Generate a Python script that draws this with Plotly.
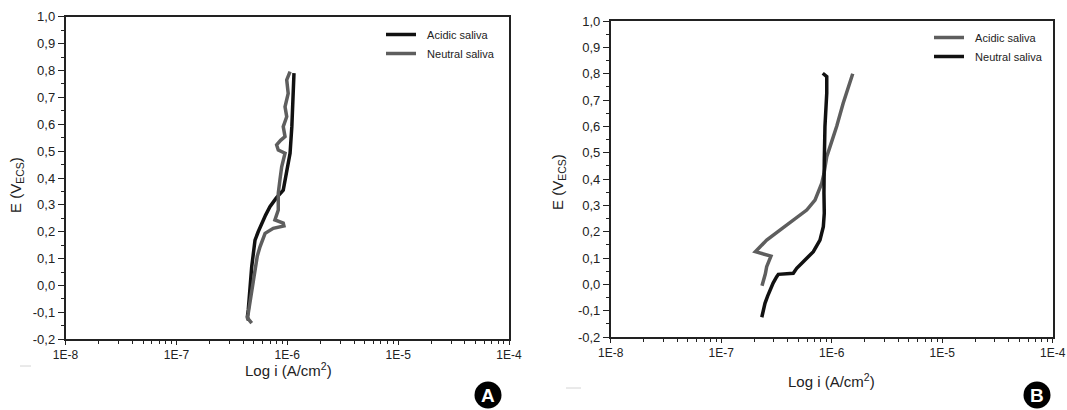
import plotly.graph_objects as go

# ---------------- Data ----------------
# Panel A
a_acidic_E = [-0.13, -0.116, -0.091, -0.05, -0.017, 0.03, 0.07, 0.12, 0.169, 0.2, 0.232,
              0.262, 0.293, 0.325, 0.355, 0.418, 0.492, 0.591, 0.715, 0.79]
a_acidic_i = [4.47e-7, 4.37e-7, 4.45e-7, 4.52e-7, 4.61e-7, 4.68e-7, 4.78e-7, 4.95e-7, 5.12e-7,
              5.47e-7, 5.87e-7, 6.38e-7, 6.98e-7, 7.94e-7, 9.20e-7, 9.89e-7, 1.06e-6, 1.10e-6,
              1.13e-6, 1.15e-6]
a_neutral_E = [-0.14, -0.12, -0.103, -0.06, -0.017, 0.03, 0.07, 0.11, 0.144, 0.175, 0.194,
               0.213, 0.218, 0.222, 0.232, 0.244, 0.281, 0.343, 0.393, 0.442, 0.492, 0.504,
               0.523, 0.54, 0.554, 0.591, 0.628, 0.665, 0.715, 0.765, 0.796]
a_neutral_i = [4.78e-7, 4.37e-7, 4.45e-7, 4.62e-7, 4.78e-7, 4.95e-7, 5.12e-7, 5.37e-7, 5.68e-7,
               6.03e-7, 6.31e-7, 7.48e-7, 8.71e-7, 9.33e-7, 9.20e-7, 7.74e-7, 8.30e-7, 8.30e-7,
               8.59e-7, 8.91e-7, 9.55e-7, 8.30e-7, 8.02e-7, 8.71e-7, 9.55e-7, 9.20e-7, 9.89e-7,
               9.55e-7, 1.02e-6, 9.89e-7, 1.06e-6]

# Panel B
b_acidic_E = [-0.005, 0.016, 0.04, 0.067, 0.09, 0.107, 0.124, 0.143, 0.168, 0.206, 0.244,
              0.282, 0.32, 0.358, 0.384, 0.42, 0.485, 0.523, 0.6, 0.688, 0.75, 0.80]
b_acidic_i = [2.34e-7, 2.43e-7, 2.51e-7, 2.58e-7, 2.69e-7, 2.82e-7, 2.04e-7, 2.24e-7, 2.58e-7,
              3.40e-7, 4.49e-7, 5.94e-7, 7.06e-7, 7.73e-7, 8.13e-7, 8.51e-7, 9.02e-7, 9.66e-7,
              1.11e-6, 1.27e-6, 1.41e-6, 1.55e-6]
b_neutral_E = [-0.125, -0.10, -0.072, -0.045, -0.021, 0.005, 0.029, 0.038, 0.042, 0.061, 0.086,
               0.124, 0.168, 0.219, 0.27, 0.346, 0.472, 0.6, 0.726, 0.789, 0.8015]
b_neutral_i = [2.33e-7, 2.40e-7, 2.49e-7, 2.63e-7, 2.77e-7, 2.95e-7, 3.18e-7, 3.29e-7, 4.49e-7,
               4.82e-7, 5.53e-7, 6.82e-7, 7.83e-7, 8.40e-7, 8.57e-7, 8.51e-7, 8.57e-7, 8.69e-7,
               9.02e-7, 9.02e-7, 8.30e-7]

x_tickvals = [1e-8, 1e-7, 1e-6, 1e-5, 1e-4]
x_ticktext = ["1E-8", "1E-7", "1E-6", "1E-5", "1E-4"]
y_tickvals = [-0.2, -0.1, 0.0, 0.1, 0.2, 0.3, 0.4, 0.5, 0.6, 0.7, 0.8, 0.9, 1.0]
y_ticktext = ["-0,2", "-0,1", "0,0", "0,1", "0,2", "0,3", "0,4", "0,5", "0,6", "0,7",
              "0,8", "0,9", "1,0"]

# ---------------- Styling ----------------
W, H = 1067, 410
BLACK = "#111111"
GREY = "#5e5e5e"
FONT = "Liberation Sans, Arial, sans-serif"
NB = "\u00a0\u00a0"

fig = go.Figure()

fig.add_trace(go.Scatter(x=a_acidic_i, y=a_acidic_E, mode="lines", name=NB + "Acidic saliva",
                         line=dict(color=BLACK, width=3.5), xaxis="x", yaxis="y",
                         legend="legend"))
fig.add_trace(go.Scatter(x=a_neutral_i, y=a_neutral_E, mode="lines", name=NB + "Neutral saliva",
                         line=dict(color=GREY, width=3.5), xaxis="x", yaxis="y",
                         legend="legend"))
fig.add_trace(go.Scatter(x=b_acidic_i, y=b_acidic_E, mode="lines", name=NB + "Acidic saliva",
                         line=dict(color=GREY, width=3.5), xaxis="x2", yaxis="y2",
                         legend="legend2"))
fig.add_trace(go.Scatter(x=b_neutral_i, y=b_neutral_E, mode="lines", name=NB + "Neutral saliva",
                         line=dict(color=BLACK, width=3.5), xaxis="x2", yaxis="y2",
                         legend="legend2"))

minor_x = [k * 10.0 ** d for d in (-8, -7, -6, -5) for k in range(2, 10)]


def xaxis(domain, anchor):
    return dict(domain=domain, anchor=anchor, type="log", range=[-8, -4],
                tickmode="array", tickvals=x_tickvals, ticktext=x_ticktext,
                ticks="outside", ticklen=4, tickwidth=1.2, tickcolor="#222",
                showline=True, linecolor="#222", linewidth=1.5, mirror=True,
                showgrid=False, zeroline=False, automargin=False,
                tickfont=dict(family=FONT, size=12, color="#222"),
                minor=dict(tickmode="array", tickvals=minor_x, ticks="outside",
                           ticklen=3, tickwidth=1, tickcolor="#222", showgrid=False))


def yaxis(domain, anchor):
    return dict(domain=domain, anchor=anchor, range=[-0.2, 1.0],
                tickmode="array", tickvals=y_tickvals, ticktext=y_ticktext,
                ticks="outside", ticklen=6, tickwidth=1.2, tickcolor="#222",
                showline=True, linecolor="#222", linewidth=1.5, mirror=True,
                showgrid=False, zeroline=False, automargin=False,
                tickfont=dict(family=FONT, size=13, color="#222"),
                minor=dict(dtick=0.05, tick0=0, ticks="outside", ticklen=3,
                           tickwidth=1, tickcolor="#222", showgrid=False))


axA_x = [65.5 / W, 509 / W]
axA_y = [1 - 339.3 / H, 1 - 16.7 / H]
axB_x = [610.7 / W, 1052.7 / W]
axB_y = [1 - 337 / H, 1 - 21 / H]

annotations = []
title_font = dict(family=FONT, size=15, color="#222")
# axis titles
annotations.append(dict(text="Log i (A/cm<sup>2</sup>)", x=288 / W, y=1 - 369 / H,
                        xref="paper", yref="paper", showarrow=False, font=title_font,
                        xanchor="center", yanchor="middle"))
annotations.append(dict(text="E (V<sub>ECS</sub>)", x=17 / W, y=1 - 185 / H,
                        xref="paper", yref="paper", showarrow=False, font=title_font,
                        textangle=-90, xanchor="center", yanchor="middle"))
annotations.append(dict(text="Log i (A/cm<sup>2</sup>)", x=831 / W, y=1 - 380 / H,
                        xref="paper", yref="paper", showarrow=False, font=title_font,
                        xanchor="center", yanchor="middle"))
annotations.append(dict(text="E (V<sub>ECS</sub>)", x=559 / W, y=1 - 182 / H,
                        xref="paper", yref="paper", showarrow=False, font=title_font,
                        textangle=-90, xanchor="center", yanchor="middle"))

shapes = []
# circled panel badges
for label, cx, cy in (("A", 488, 395), ("B", 1037, 395)):
    r = 13.5
    shapes.append(dict(type="circle", xref="paper", yref="paper",
                       x0=(cx - r) / W, x1=(cx + r) / W,
                       y0=1 - (cy + r) / H, y1=1 - (cy - r) / H,
                       fillcolor="#000000", line=dict(color="#000000", width=0)))
    annotations.append(dict(text="<b>%s</b>" % label, x=cx / W, y=1 - cy / H,
                            xref="paper", yref="paper", showarrow=False,
                            font=dict(family=FONT, size=19, color="white"),
                            xanchor="center", yanchor="middle"))

# faint scan artefacts near bottom-left of each panel
shapes.append(dict(type="line", xref="paper", yref="paper", x0=20 / W, x1=31 / W,
                   y0=1 - 366 / H, y1=1 - 366 / H, line=dict(color="#d4d4d4", width=1)))
shapes.append(dict(type="line", xref="paper", yref="paper", x0=566 / W, x1=581 / W,
                   y0=1 - 388 / H, y1=1 - 388 / H, line=dict(color="#d4d4d4", width=1)))

legend_font = dict(family=FONT, size=11, color="#222")

fig.update_layout(
    width=W, height=H,
    margin=dict(l=0, r=0, t=0, b=0, autoexpand=False),
    paper_bgcolor="white", plot_bgcolor="white",
    xaxis=xaxis(axA_x, "y"), yaxis=yaxis(axA_y, "x"),
    xaxis2=xaxis(axB_x, "y2"), yaxis2=yaxis(axB_y, "x2"),
    legend=dict(x=381 / W, y=1 - 20 / H, xanchor="left", yanchor="top",
                bgcolor="rgba(0,0,0,0)", font=legend_font, itemwidth=30,
                tracegroupgap=0),
    legend2=dict(x=929 / W, y=1 - 23 / H, xanchor="left", yanchor="top",
                 bgcolor="rgba(0,0,0,0)", font=legend_font, itemwidth=30,
                 tracegroupgap=0),
    annotations=annotations,
    shapes=shapes,
    showlegend=True,
)

fig.write_html("out.html",
               config={"displayModeBar": False},
               post_script="document.body.style.margin='0px';"
                           "document.body.style.overflow='hidden';")
